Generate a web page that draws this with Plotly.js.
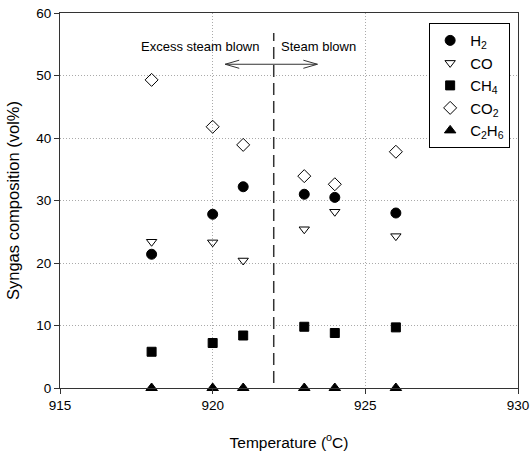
<!DOCTYPE html>
<html>
<head>
<meta charset="utf-8">
<script src="https://cdn.plot.ly/plotly-3.0.1.min.js"></script>
<style>body{margin:0;padding:0;background:#fff}#chart{width:530px;height:455px}</style>
</head>
<body>
<div id="chart"></div>
<script>
var temperature = [918, 920, 921, 923, 924, 926];
var h2   = [21.4, 27.8, 32.2, 31.0, 30.5, 28.0];
var co   = [23.4, 23.3, 20.4, 25.4, 28.2, 24.3];
var ch4  = [5.8, 7.2, 8.4, 9.8, 8.8, 9.7];
var co2  = [49.3, 41.8, 38.9, 33.9, 32.6, 37.8];
var c2h6 = [0, 0, 0, 0, 0, 0];

var seriesNames = ['H<sub>2</sub>', 'CO', 'CH<sub>4</sub>', 'CO<sub>2</sub>', 'C<sub>2</sub>H<sub>6</sub>'];
var seriesData = [h2, co, ch4, co2, c2h6];
var symbols = ['circle', 'triangle-down-open', 'square', 'diamond-open', 'triangle-up'];
var sizes = [10, 9, 9, 10, 10];

var traces = seriesData.map(function (d, i) {
  return {
    x: temperature, y: d, name: seriesNames[i], type: 'scatter', mode: 'markers',
    cliponaxis: false,
    marker: {symbol: symbols[i], size: sizes[i], color: '#000', line: {color: '#000', width: 1}}
  };
});

var fam = 'Arial, "Liberation Sans", sans-serif';
var font = {family: fam, size: 13.5, color: '#000'};

var arrowY = 51.8, ax0 = 920.41, ax1 = 923.43;
var ahx = 0.46, ahy = 0.65;

var layout = {
  width: 530, height: 455,
  margin: {l: 60, r: 12, t: 13, b: 67},
  paper_bgcolor: '#fff', plot_bgcolor: '#fff',
  font: font,
  showlegend: true,
  legend: {
    x: 0.806, y: 0.973, xanchor: 'left', yanchor: 'top',
    bordercolor: '#000', borderwidth: 1, bgcolor: '#fff',
    font: {family: fam, size: 15, color: '#000'},
    itemwidth: 30
  },
  xaxis: {
    range: [915, 930], dtick: 5, tick0: 915,
    showgrid: true, gridcolor: '#aaa', griddash: '1px,2px', gridwidth: 1,
    zeroline: false, showline: true, linecolor: '#333', linewidth: 1, mirror: true,
    ticks: 'outside', ticklen: 5, tickcolor: '#333',
    tickfont: font,
    title: {text: 'Temperature (<sup>o</sup>C)', font: {family: fam, size: 15.5, color: '#000'}, standoff: 24}
  },
  yaxis: {
    range: [0, 60], dtick: 10,
    showgrid: true, gridcolor: '#aaa', griddash: '1px,2px', gridwidth: 1,
    zeroline: false, showline: true, linecolor: '#333', linewidth: 1, mirror: true,
    ticks: 'outside', ticklen: 5, tickcolor: '#333',
    tickfont: font,
    title: {text: 'Syngas composition (vol%)', font: {family: fam, size: 16.5, color: '#000'}, standoff: 12}
  },
  shapes: [
    {type: 'line', xref: 'x', yref: 'y', x0: 922, x1: 922, y0: 0.8, y1: 56.8,
     line: {color: '#333', width: 1.5, dash: '12px,6px'}},
    {type: 'line', xref: 'x', yref: 'y', x0: ax0, x1: ax1, y0: arrowY, y1: arrowY,
     line: {color: '#333', width: 1}},
    {type: 'path', xref: 'x', yref: 'y',
     path: 'M ' + (ax0 + ahx) + ' ' + (arrowY + ahy) + ' L ' + ax0 + ' ' + arrowY + ' L ' + (ax0 + ahx) + ' ' + (arrowY - ahy),
     line: {color: '#333', width: 1}},
    {type: 'path', xref: 'x', yref: 'y',
     path: 'M ' + (ax1 - ahx) + ' ' + (arrowY + ahy) + ' L ' + ax1 + ' ' + arrowY + ' L ' + (ax1 - ahx) + ' ' + (arrowY - ahy),
     line: {color: '#333', width: 1}}
  ],
  annotations: [
    {x: 919.6, y: 54.6, xref: 'x', yref: 'y', text: 'Excess steam blown', showarrow: false,
     font: {family: fam, size: 13, color: '#000'}},
    {x: 923.46, y: 54.6, xref: 'x', yref: 'y', text: 'Steam blown', showarrow: false,
     font: {family: fam, size: 13, color: '#000'}}
  ]
};

Plotly.newPlot('chart', traces, layout, {displayModeBar: false, staticPlot: true});
</script>
</body>
</html>
